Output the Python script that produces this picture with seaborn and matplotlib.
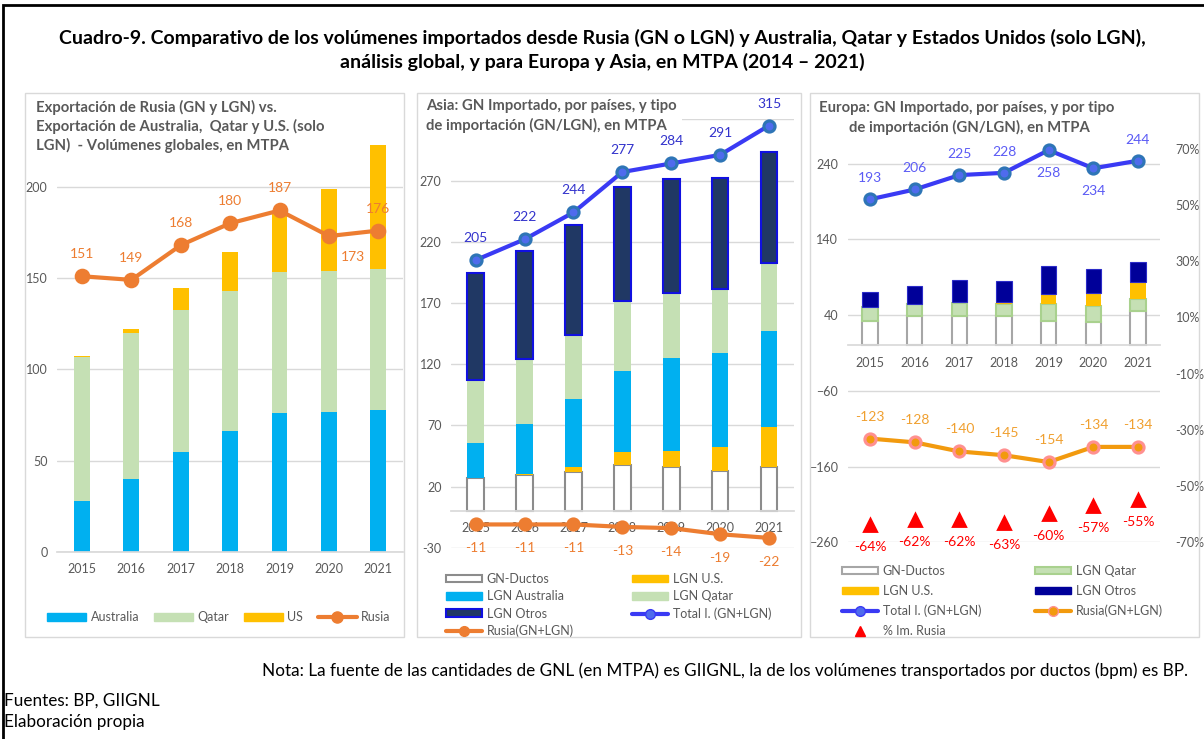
import numpy as np
import seaborn as sns
import matplotlib.pyplot as plt
from matplotlib.patches import Patch, Rectangle
from matplotlib.lines import Line2D

sns.set_theme(style="white")
plt.rcParams["font.family"] = ["Lato", "DejaVu Sans"]

years = ["2015", "2016", "2017", "2018", "2019", "2020", "2021"]

# Panel 1: global volumes (MTPA)
glob_australia = [27.8, 40.0, 54.8, 66.3, 76.0, 76.8, 77.9]
glob_qatar = [78.8, 79.8, 77.7, 76.8, 77.5, 77.1, 77.1]
glob_us = [0.6, 2.5, 12.1, 21.0, 33.0, 44.9, 67.9]
glob_rusia = [151, 149, 168, 180, 187, 173, 176]

# Panel 2: Asia
asia_ductos = [26.9, 29.6, 31.8, 37.7, 36.3, 32.8, 35.9]
asia_us = [0.0, 0.4, 4.5, 10.4, 12.9, 19.4, 32.9]
asia_australia = [28.5, 40.8, 55.3, 66.4, 75.7, 77.3, 78.4]
asia_qatar = [51.7, 53.1, 52.3, 57.4, 53.0, 52.2, 55.7]
asia_otros = [87.7, 88.2, 89.6, 93.1, 93.4, 90.2, 90.7]
asia_total = [205, 222, 244, 277, 284, 291, 315]
asia_rusia = [-11, -11, -11, -13, -14, -19, -22]

# Panel 3: Europa
eu_ductos = [32.4, 38.6, 38.6, 38.6, 32.4, 31.1, 45.6]
eu_qatar = [18.5, 16.8, 17.6, 16.3, 22.1, 20.8, 16.4]
eu_us = [0.0, 0.0, 1.0, 2.2, 12.8, 17.6, 21.2]
eu_otros = [19.5, 22.9, 28.6, 27.4, 37.5, 31.3, 26.5]
eu_total = [193, 206, 225, 228, 258, 234, 244]
eu_rusia = [-123, -128, -140, -145, -154, -134, -134]
eu_pct_rusia = [-0.64, -0.62, -0.62, -0.63, -0.60, -0.57, -0.55]

W, H = 1204, 739
GRID = "#D9D9D9"
TXT = "#595959"
BLUE = "#00B0F0"
GREEN = "#C5E0B4"
YELLOW = "#FFC000"
ORANGE = "#ED7D31"
ORANGE2 = "#F29A0E"
NAVY_ASIA = "#203864"
NAVY_EU = "#000099"
TOTAL = "#3A3AF4"
FS = 9
LFS = 10


def box(l, t, r, b):
    return [l / W, 1 - b / H, (r - l) / W, (b - t) / H]


def fx(x):
    return x / W


def fy(y):
    return 1 - y / H


def stacked(ax, layers, width):
    bottom = np.zeros(len(years))
    for vals, face, edge, lw in layers:
        sns.barplot(x=years, y=vals, bottom=bottom, color=face, edgecolor=edge,
                    linewidth=lw, width=width, saturation=1, errorbar=None, ax=ax)
        bottom = bottom + np.array(vals)


def style_axis(ax, ylim, yticks, labels=None):
    ax.set_facecolor("none")
    ax.set_ylim(*ylim)
    ax.set_xlim(-0.5, len(years) - 0.5)
    ax.set_yticks(yticks)
    if labels is not None:
        ax.set_yticklabels(labels)
    ax.set_xticks(range(len(years)))
    ax.set_xticklabels(years)
    ax.yaxis.grid(True, color=GRID, lw=1)
    ax.xaxis.grid(False)
    ax.set_axisbelow(True)
    for s in ["top", "right", "left"]:
        ax.spines[s].set_visible(False)
    ax.spines["bottom"].set_color(GRID)
    ax.spines["bottom"].set_position(("data", 0))
    ax.tick_params(axis="both", length=0, colors=TXT, labelsize=FS)
    ax.tick_params(axis="x", pad=8)
    ax.tick_params(axis="y", pad=7)
    ax.set_xlabel("")
    ax.set_ylabel("")


def labels(ax, vals, color, offsets, fmt="{}"):
    for i, (v, off) in enumerate(zip(vals, offsets)):
        ax.annotate(fmt.format(v), (i, v), xytext=off, textcoords="offset pixels",
                    ha="center", va="center", color=color, fontsize=LFS, zorder=5)


fig = plt.figure(figsize=(W / 100, H / 100), dpi=100)

# outer frame and panel frames
fig.patches.append(Rectangle((fx(3), fy(745)), fx(1210) - fx(3), fy(5) - fy(745),
                             transform=fig.transFigure, fill=False, ec="black", lw=2, zorder=0.5))
for l, r in [(25, 404), (417, 801), (810, 1199)]:
    fig.patches.append(Rectangle((fx(l), fy(637)), fx(r) - fx(l), fy(93) - fy(637),
                                 transform=fig.transFigure, fill=False, ec=GRID, lw=1, zorder=0.5))

# ---------- Panel 1 ----------
ax1 = fig.add_axes(box(57.3, 140, 403, 552))
stacked(ax1, [(glob_australia, BLUE, BLUE, 0), (glob_qatar, GREEN, GREEN, 0),
              (glob_us, YELLOW, YELLOW, 0)], 0.32)
sns.pointplot(x=years, y=glob_rusia, color=ORANGE, markers="o", linestyles="-",
              markersize=9, linewidth=3, errorbar=None, ax=ax1, zorder=4, clip_on=False)
style_axis(ax1, (0, 225.6), [0, 50, 100, 150, 200])
off1 = [(0, 22)] * 7
off1[5] = (24, -21)
labels(ax1, glob_rusia, ORANGE, off1)

fig.legend(handles=[Patch(color=BLUE), Patch(color=GREEN), Patch(color=YELLOW),
                    Line2D([], [], color=ORANGE, lw=3, marker="o", markersize=8)],
           labels=["Australia", "Qatar", "US", "Rusia"], ncol=4, loc="center",
           bbox_to_anchor=(fx(219), fy(617)), frameon=False, fontsize=FS,
           labelcolor=TXT, handlelength=3.1, handleheight=0.6, handletextpad=0.35,
           columnspacing=1.2)

# ---------- Panel 2 ----------
ax2 = fig.add_axes(box(451.2, 119.4, 793.5, 547.7))
stacked(ax2, [(asia_ductos, "white", "#8C8C8C", 1.5), (asia_us, YELLOW, YELLOW, 0),
              (asia_australia, BLUE, BLUE, 0), (asia_qatar, GREEN, GREEN, 0),
              (asia_otros, NAVY_ASIA, "#1010E0", 1.5)], 0.34)
sns.pointplot(x=years, y=asia_total, color=TOTAL, markers="o", linestyles="-",
              markersize=8, linewidth=3, markerfacecolor="#4F6BED",
              markeredgecolor="#2E75B6", errorbar=None, ax=ax2, zorder=4, clip_on=False)
sns.pointplot(x=years, y=asia_rusia, color=ORANGE, markers="o", linestyles="-",
              markersize=8, linewidth=3, errorbar=None, ax=ax2, zorder=4, clip_on=False)
ticks2 = [-30, 20, 70, 120, 170, 220, 270, 320]
style_axis(ax2, (-30, 320), ticks2, [str(t) for t in ticks2[:-1]] + [""])
labels(ax2, asia_total, "#3333CC", [(0, 22)] * 7)
labels(ax2, asia_rusia, ORANGE, [(0, -24)] * 7)

leg_kw = dict(frameon=False, fontsize=FS, labelcolor=TXT, handlelength=2.9,
              handleheight=0.55, handletextpad=0.35, labelspacing=0.42,
              loc="upper left", borderpad=0, borderaxespad=0)
fig.legend(handles=[Patch(facecolor="white", edgecolor="#8C8C8C", lw=1.5), Patch(color=BLUE),
                    Patch(facecolor=NAVY_ASIA, edgecolor="#1010E0", lw=1.5),
                    Line2D([], [], color=ORANGE, lw=3, marker="o", markersize=7)],
           labels=["GN-Ductos", "LGN Australia", "LGN Otros", "Rusia(GN+LGN)"],
           bbox_to_anchor=(fx(446), fy(573)), **leg_kw)
fig.legend(handles=[Patch(color=YELLOW), Patch(color=GREEN),
                    Line2D([], [], color=TOTAL, lw=3, marker="o", markersize=7,
                           markerfacecolor="#4F6BED")],
           labels=["LGN U.S.", "LGN Qatar", "Total I. (GN+LGN)"],
           bbox_to_anchor=(fx(632), fy(573)), **leg_kw)

# ---------- Panel 3 ----------
ax3 = fig.add_axes(box(847.7, 148.6, 1160.3, 542.3))
stacked(ax3, [(eu_ductos, "white", "#A6A6A6", 1.5), (eu_qatar, GREEN, "#A9D18E", 1.5),
              (eu_us, YELLOW, YELLOW, 0), (eu_otros, NAVY_EU, "#2B2BC8", 0.8)], 0.34)
sns.pointplot(x=years, y=eu_total, color=TOTAL, markers="o", linestyles="-",
              markersize=8, linewidth=3, markerfacecolor="#4F6BED",
              markeredgecolor="#2E75B6", errorbar=None, ax=ax3, zorder=4, clip_on=False)
sns.pointplot(x=years, y=eu_rusia, color=ORANGE2, markers="o", linestyles="-",
              markersize=8, linewidth=3, markeredgecolor="#FF9090",
              errorbar=None, ax=ax3, zorder=4, clip_on=False)
style_axis(ax3, (-260, 260), [-260, -160, -60, 40, 140, 240])
off_tot = [(0, 21), (0, 21), (0, 21), (0, 21), (0, -23), (0, -23), (0, 21)]
labels(ax3, eu_total, "#5B5BF5", off_tot)
labels(ax3, eu_rusia, "#F0A030", [(0, 22)] * 7)

ax3r = ax3.twinx()
sns.pointplot(x=years, y=eu_pct_rusia, color="#FF0000", markers="^", linestyles="none",
              markersize=8, errorbar=None, ax=ax3r)
ax3r.set_ylim(-0.7, 0.7)
pct_ticks = np.arange(-0.7, 0.71, 0.2)
ax3r.set_yticks(pct_ticks)
ax3r.set_yticklabels([f"{round(t * 100)}%" for t in pct_ticks])
ax3r.set_ylabel("")
ax3r.grid(False)
for s in ax3r.spines.values():
    s.set_visible(False)
ax3r.tick_params(axis="y", length=0, colors=TXT, labelsize=FS, pad=11)
ax3r.set_xlim(-0.5, len(years) - 0.5)
labels(ax3r, eu_pct_rusia, "#FF0000", [(0, -22)] * 7, fmt="{:.0%}")

leg3 = dict(leg_kw, labelspacing=0.62)
fig.legend(handles=[Patch(facecolor="white", edgecolor="#A6A6A6", lw=1.5), Patch(color=YELLOW),
                    Line2D([], [], color=TOTAL, lw=3, marker="o", markersize=7,
                           markerfacecolor="#4F6BED"),
                    Line2D([], [], color="#FF0000", lw=0, marker="^", markersize=7)],
           labels=["GN-Ductos", "LGN U.S.", "Total I. (GN+LGN)", "% Im. Rusia"],
           bbox_to_anchor=(fx(842), fy(565)), **leg3)
fig.legend(handles=[Patch(facecolor=GREEN, edgecolor="#A9D18E", lw=1.5),
                    Patch(color=NAVY_EU),
                    Line2D([], [], color=ORANGE2, lw=3, marker="o", markersize=7,
                           markeredgecolor="#FF9090")],
           labels=["LGN Qatar", "LGN Otros", "Rusia(GN+LGN)"],
           bbox_to_anchor=(fx(1035), fy(565)), **leg3)

# ---------- texts ----------
fig.patches.append(Rectangle((fx(420), fy(131)), fx(682) - fx(420), fy(96) - fy(131),
                             transform=fig.transFigure, fc="white", ec="none", zorder=2))
fig.text(0.5, fy(38), "Cuadro-9. Comparativo de los volúmenes importados desde Rusia (GN o LGN) "
         "y Australia, Qatar y Estados Unidos (solo LGN),", ha="center", va="center",
         fontsize=14, fontweight="bold", color="black")
fig.text(0.5, fy(62), "análisis global, y para Europa y Asia, en MTPA (2014 – 2021)",
         ha="center", va="center", fontsize=14, fontweight="bold", color="black")

ptitle = dict(ha="left", va="center", fontsize=10.7, fontweight="bold", color=TXT)
fig.text(fx(36), fy(107), "Exportación de Rusia (GN y LGN) vs.", **ptitle)
fig.text(fx(36), fy(126), "Exportación de Australia,  Qatar y U.S. (solo", **ptitle)
fig.text(fx(36), fy(145), "LGN)  - Volúmenes globales, en MTPA", **ptitle)
fig.text(fx(426), fy(106), "Asia: GN Importado, por países, y tipo", **ptitle)
fig.text(fx(426), fy(125), "de importación (GN/LGN), en MTPA", **ptitle)
fig.text(fx(819), fy(108), "Europa: GN Importado, por países, y por tipo", **ptitle)
fig.text(fx(849), fy(127), "de importación (GN/LGN), en MTPA", **ptitle)

note = dict(va="center", fontsize=12.3, color="black")
fig.text(fx(1188), fy(671), "Nota: La fuente de las cantidades de GNL (en MTPA) es GIIGNL, "
         "la de los volúmenes transportados por ductos (bpm) es BP.", ha="right", **note)
fig.text(fx(4), fy(701), "Fuentes: BP, GIIGNL", ha="left", **note)
fig.text(fx(4), fy(722), "Elaboración propia", ha="left", **note)

fig.savefig("out.png", dpi=100, facecolor="white")
